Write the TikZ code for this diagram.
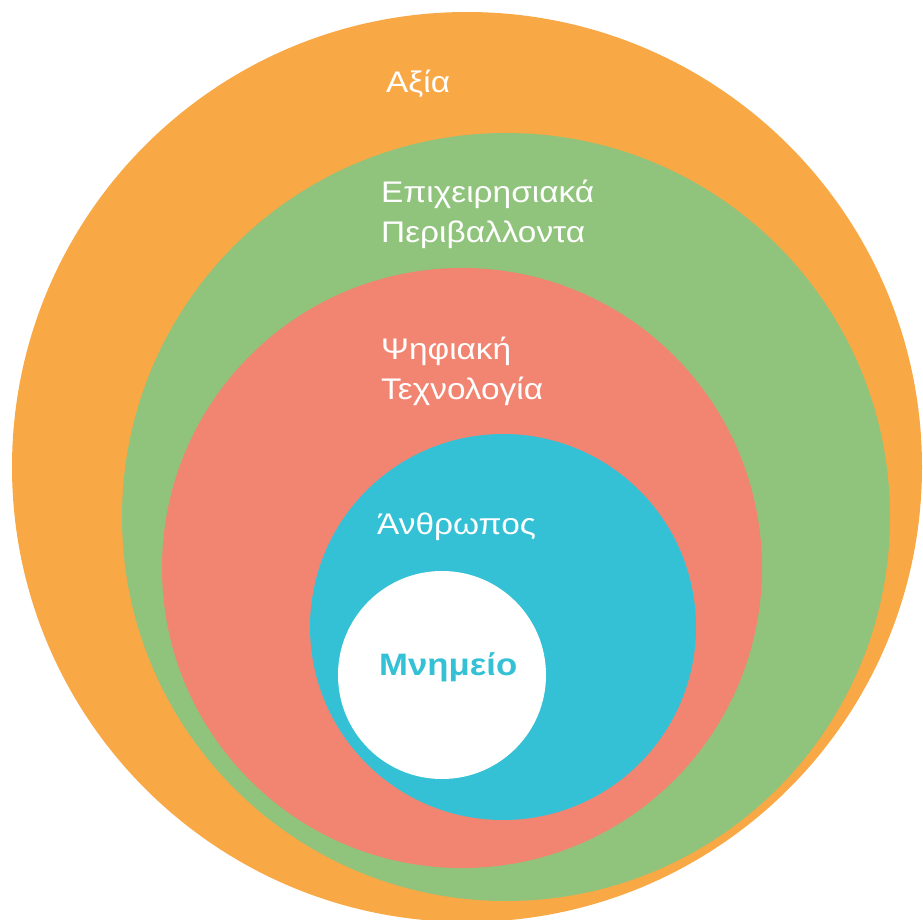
\documentclass[tikz,border=0pt]{standalone}
\usepackage{fontspec}
\setmainfont{Liberation Sans}[FakeStretch=1.12]
\definecolor{cOrange}{HTML}{F9A846}
\definecolor{cGreen}{HTML}{90C47C}
\definecolor{cSalmon}{HTML}{F28571}
\definecolor{cBlue}{HTML}{34C1D5}
\begin{document}
\begin{tikzpicture}[x=1pt,y=-1pt,
  ring/.style={circle,inner sep=0pt,minimum size=#1,draw=none},
  lbl/.style={anchor=base west,inner sep=0pt,text=white,font=\fontsize{29.8}{40}\selectfont,align=left}]
\useasboundingbox (0,0) rectangle (923,920);
\begin{scope}
\clip (0,0) rectangle (923,920);
\node[ring=910pt,fill=cOrange] (axia) at (467,467) {};
\node[ring=768pt,fill=cGreen] (epix) at (506,517) {};
\node[ring=600pt,fill=cSalmon] (psif) at (462,568) {};
\node[ring=386pt,fill=cBlue] (anth) at (503,627) {};
\node[ring=208pt,fill=white] (mnim) at (442,675) {};
\end{scope}
\node[lbl] (taxia) at (386,93) {Αξία};
\node[lbl,anchor=north west] (tepix) at (381,180) {\vphantom{Π}Επιχειρησιακά\\Περιβαλλοντα};
\node[lbl,anchor=north west] (tpsif) at (381,337) {\vphantom{Π}Ψηφιακή\\Τεχνολογία};
\node[lbl] (tanth) at (377,534) {Άνθρωπος};
\node[anchor=base west,inner sep=0pt,text=cBlue,font=\fontsize{31}{36}\selectfont\bfseries] (tmnim) at (379,675) {Μνημείο};
\end{tikzpicture}
\end{document}
